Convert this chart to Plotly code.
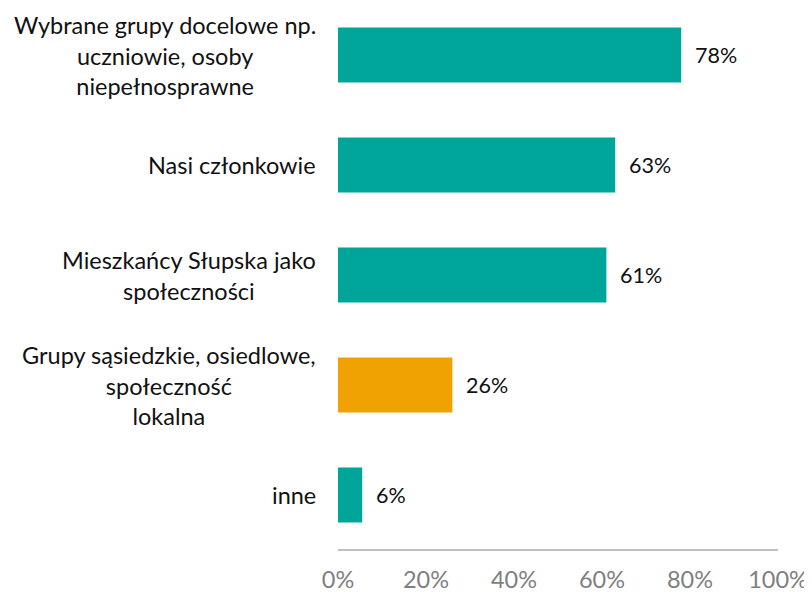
import plotly.graph_objects as go

categories = [
    "Wybrane grupy docelowe np.<br>uczniowie, osoby<br>niepełnosprawne",
    "Nasi członkowie",
    "Mieszkańcy Słupska jako<br>społeczności",
    "Grupy sąsiedzkie, osiedlowe,<br>społeczność<br>lokalna",
    "inne",
]
values = [78, 63, 61, 26, 5.5]
value_labels = ["78%", "63%", "61%", "26%", "6%"]
colors = ["#00A59A", "#00A59A", "#00A59A", "#F0A202", "#00A59A"]
tick_vals = [0, 20, 40, 60, 80, 100]
tick_text = ["0%", "20%", "40%", "60%", "80%", "100%"]

ids = list(range(len(categories)))

fig = go.Figure(go.Bar(
    x=values, y=ids, orientation="h",
    marker=dict(color=colors, line=dict(width=0)),
    width=0.5, hoverinfo="skip",
))

annotations = []
for i, (cat, v, lab) in enumerate(zip(categories, values, value_labels)):
    annotations.append(dict(
        x=0, xref="paper", y=i, yref="y", text=cat, showarrow=False,
        xanchor="right", yanchor="middle", align="center", xshift=-20,
        font=dict(family="Lato", size=23.5, color="#111111"),
    ))
    annotations.append(dict(
        x=v, xref="x", y=i, yref="y", text=lab, showarrow=False,
        xanchor="left", yanchor="middle", xshift=12,
        font=dict(family="Lato", size=21.5, color="#111111"),
    ))

# The page body adds an 8px offset; the figure is sized to fit the window.
fig.update_layout(
    width=804, height=584,
    margin=dict(l=330, r=34, t=0, b=42, autoexpand=False),
    paper_bgcolor="white", plot_bgcolor="white",
    showlegend=False,
    bargap=0.5,
    annotations=annotations,
    xaxis=dict(
        range=[0, 100], tickvals=tick_vals, ticktext=tick_text,
        showgrid=False, zeroline=False, showline=False,
        tickfont=dict(family="Lato", size=23.5, color="#808080"),
        ticks="", ticklabelstandoff=13, automargin=False,
    ),
    yaxis=dict(
        range=[4.5, -0.4273], showticklabels=False, showgrid=False,
        zeroline=False, showline=False, automargin=False,
    ),
    shapes=[dict(type="line", xref="paper", yref="paper", x0=0, x1=1,
                 y0=0, y1=0, line=dict(color="#C0C0C0", width=2))],
)

fig.write_html("out.html")
